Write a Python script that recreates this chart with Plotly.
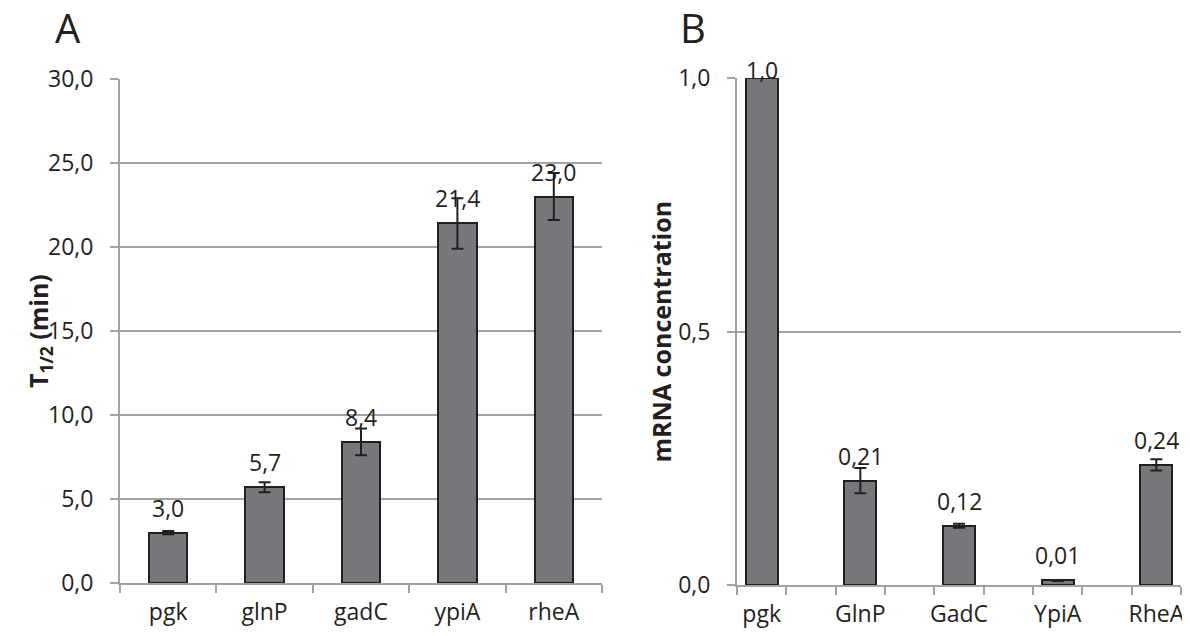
import plotly.graph_objects as go

# ---- Data ----
genes_a = ["pgk", "glnP", "gadC", "ypiA", "rheA"]
half_life = [3.0, 5.7, 8.4, 21.4, 23.0]
half_life_err = [0.1, 0.3, 0.8, 1.5, 1.4]
half_life_labels = ["3,0", "5,7", "8,4", "21,4", "23,0"]

genes_b = ["pgk", "GlnP", "GadC", "YpiA", "RheA"]
mrna = [1.0, 0.206, 0.117, 0.009, 0.237]
mrna_err = [0.0, 0.025, 0.004, 0.001, 0.011]
mrna_labels = ["1,0", "0,21", "0,12", "0,01", "0,24"]

yticks_a = [0, 5, 10, 15, 20, 25, 30]
yticks_b = [0, 0.5, 1.0]

# ---- Style ----
OFF = 8  # page body margin
W, H = 1190 - OFF, 636 - OFF
FONT = "Open Sans"
FS = 23
FS_TITLE = 25
BAR_FILL = "#77787b"
BAR_LINE = "#231f20"
GRID = "#a3a3a3"
TXT = "#231f20"


def fx(px):
    return (px - OFF) / W


def fy(py):
    return 1 - (py - OFF) / H


dom_xa = [fx(120), fx(602)]
dom_ya = [fy(583), fy(79)]
dom_xb = [fx(737), fx(1181)]
dom_yb = [fy(585), fy(78)]

xa_pos = list(range(len(genes_a)))
xb_pos = [2 * i for i in range(len(genes_b))]

fig = go.Figure()

fig.add_trace(go.Bar(
    x=xa_pos, y=half_life, width=0.4,
    marker=dict(color=BAR_FILL, line=dict(color=BAR_LINE, width=2)),
    error_y=dict(type="data", array=half_life_err, color=BAR_LINE, thickness=2, width=6),
    xaxis="x", yaxis="y", showlegend=False, hoverinfo="skip",
))
fig.add_trace(go.Bar(
    x=xb_pos, y=mrna, width=0.65,
    marker=dict(color=BAR_FILL, line=dict(color=BAR_LINE, width=2)),
    error_y=dict(type="data", array=mrna_err, color=BAR_LINE, thickness=2, width=6),
    xaxis="x2", yaxis="y2", showlegend=False, hoverinfo="skip",
))

tickfont = dict(family=FONT, size=FS, color=TXT)


def xaxis_cfg(domain, pos, names, nslots, anchor):
    return dict(
        domain=domain, range=[-0.5, nslots - 0.5], anchor=anchor,
        tickmode="array", tickvals=pos, ticktext=names, ticks="",
        tickfont=tickfont, showgrid=False, zeroline=False,
        showline=True, linecolor=GRID, linewidth=2,
        minor=dict(ticks="outside", tick0=-0.5, dtick=1, ticklen=8,
                   tickcolor=GRID, tickwidth=2, showgrid=False),
        ticklabelstandoff=7, automargin=False, fixedrange=True,
    )


def yaxis_cfg(domain, ticks, rng, anchor):
    return dict(
        domain=domain, range=rng, tickmode="array", tickvals=ticks,
        tickformat=".1f", tickfont=tickfont, ticks="outside", ticklen=8,
        tickcolor=GRID, tickwidth=2, showgrid=True, gridcolor=GRID, gridwidth=2,
        zeroline=False, showline=True, linecolor=GRID, linewidth=2,
        anchor=anchor, ticklabelstandoff=12, automargin=False, fixedrange=True,
    )


fig.update_layout(
    width=W, height=H, margin=dict(l=0, r=0, t=0, b=0, autoexpand=False),
    paper_bgcolor="white", plot_bgcolor="white",
    separators=", ",
    bargap=0,
    xaxis=xaxis_cfg(dom_xa, xa_pos, genes_a, len(genes_a), "y"),
    yaxis=yaxis_cfg(dom_ya, yticks_a, [0, 30], "x"),
    xaxis2=xaxis_cfg(dom_xb, xb_pos, genes_b, 9, "y2"),
    yaxis2=yaxis_cfg(dom_yb, yticks_b, [0, 1.0], "x2"),
    font=dict(family=FONT, color=TXT),
)

annotations = []
# value labels
plot_h_a = (dom_ya[1] - dom_ya[0]) * H
plot_h_b = (dom_yb[1] - dom_yb[0]) * H
for x, v, t in zip(xa_pos, half_life, half_life_labels):
    shift = min(25, 8 + (30 - v) / 30 * plot_h_a)
    annotations.append(dict(x=x, y=v, xref="x", yref="y", text=t, showarrow=False,
                            yanchor="middle", yshift=shift,
                            font=dict(family=FONT, size=FS, color=TXT)))
for x, v, t in zip(xb_pos, mrna, mrna_labels):
    shift = min(25, 8 + (1.0 - v) / 1.0 * plot_h_b)
    annotations.append(dict(x=x, y=v, xref="x2", yref="y2", text=t, showarrow=False,
                            yanchor="middle", yshift=shift,
                            font=dict(family=FONT, size=FS, color=TXT)))

# panel letters
for letter, px in (("A", 68), ("B", 693)):
    annotations.append(dict(x=fx(px), y=fy(27), xref="paper", yref="paper", text=letter,
                            showarrow=False, xanchor="center", yanchor="middle",
                            height=36, valign="middle",
                            font=dict(family=FONT, size=40, color=TXT)))

# axis titles
annotations.append(dict(x=fx(39), y=(dom_ya[0] + dom_ya[1]) / 2, xref="paper", yref="paper",
                        text="<b>T<sub>1/2</sub> (min)</b>", textangle=-90, showarrow=False,
                        xanchor="center", yanchor="middle",
                        font=dict(family=FONT, size=FS_TITLE, color=TXT)))
annotations.append(dict(x=fx(660), y=(dom_yb[0] + dom_yb[1]) / 2, xref="paper", yref="paper",
                        text="<b>mRNA concentration</b>", textangle=-90, showarrow=False,
                        xanchor="center", yanchor="middle",
                        font=dict(family=FONT, size=FS_TITLE, color=TXT)))

fig.update_layout(annotations=annotations)

fig.write_html("out.html")
